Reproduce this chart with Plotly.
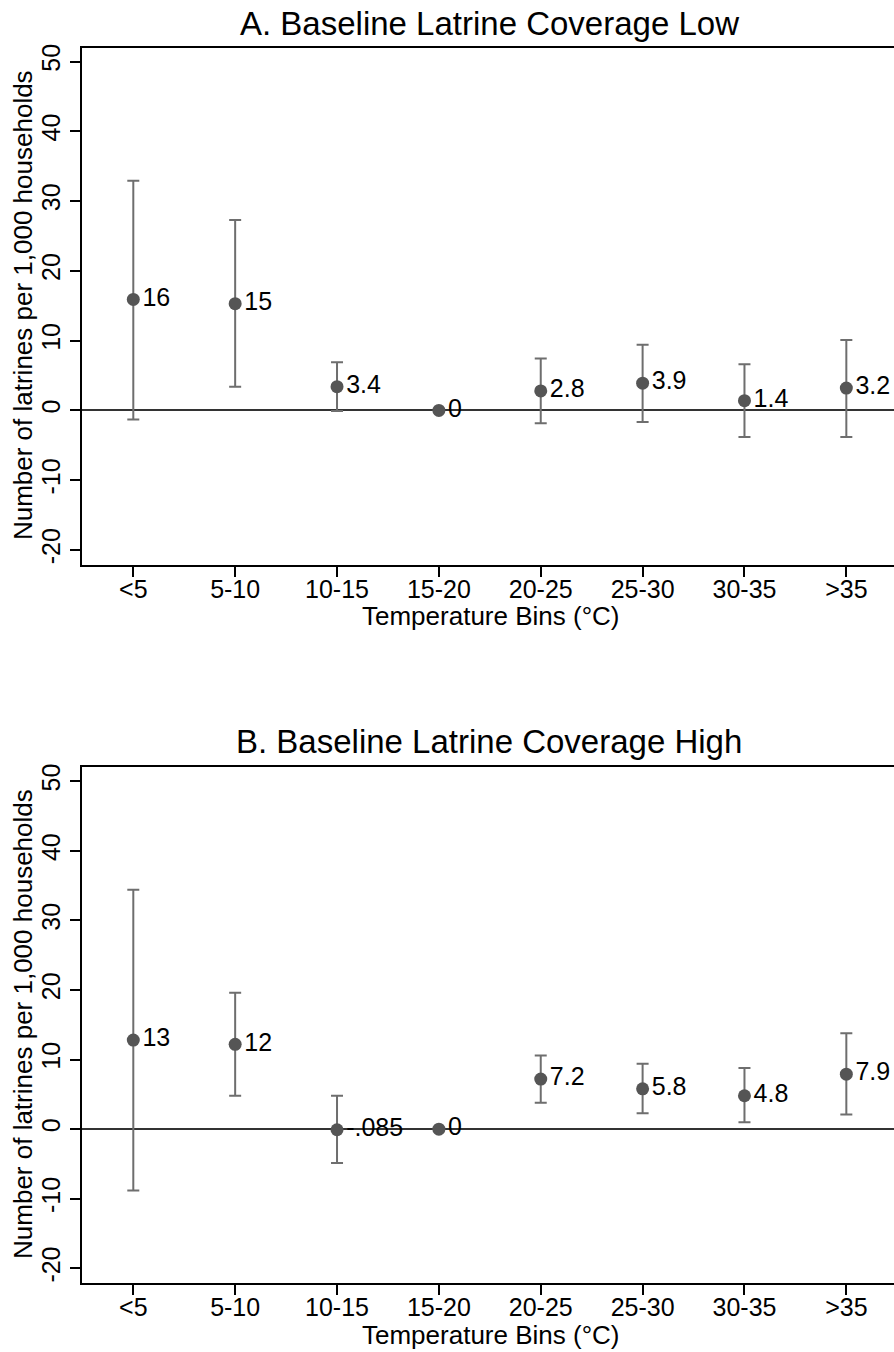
import plotly.graph_objects as go

bins = ["<5", "5-10", "10-15", "15-20", "20-25", "25-30", "30-35", ">35"]

est_a = [15.9, 15.3, 3.4, 0, 2.8, 3.9, 1.4, 3.2]
lo_a = [-1.3, 3.4, -0.1, None, -1.85, -1.65, -3.8, -3.8]
hi_a = [32.9, 27.3, 6.9, None, 7.45, 9.4, 6.6, 10.1]
lab_a = ["16", "15", "3.4", "0", "2.8", "3.9", "1.4", "3.2"]

est_b = [12.8, 12.2, -0.085, 0, 7.2, 5.8, 4.8, 7.9]
lo_b = [-8.8, 4.8, -4.85, None, 3.8, 2.3, 1.0, 2.1]
hi_b = [34.4, 19.6, 4.8, None, 10.6, 9.4, 8.8, 13.8]
lab_b = ["13", "12", "-.085", "0", "7.2", "5.8", "4.8", "7.9"]

titles = ["A. Baseline Latrine Coverage Low", "B. Baseline Latrine Coverage High"]
xtitle = "Temperature Bins (°C)"
ytitle = "Number of latrines per 1,000 households"
yticks = [-20, -10, 0, 10, 20, 30, 40, 50]
ytick_text = ["-20", "-10", "0", "10", "20", "30", "40", "50"]

FONT = "Liberation Sans, Arial, sans-serif"
W, H = 894, 1352
ML = 82


def errs(est, lo, hi):
    plus = [None if h is None else h - e for e, h in zip(est, hi)]
    minus = [None if l is None else e - l for e, l in zip(est, lo)]
    return plus, minus


fig = go.Figure()
for i, (est, lo, hi, lab) in enumerate([(est_a, lo_a, hi_a, lab_a), (est_b, lo_b, hi_b, lab_b)]):
    plus, minus = errs(est, lo, hi)
    sfx = "" if i == 0 else "2"
    fig.add_trace(go.Scatter(
        x=bins, y=est, mode="markers+text", text=lab,
        textposition="middle right",
        textfont=dict(size=25, color="black", family=FONT),
        marker=dict(size=13, color="#555555"),
        error_y=dict(type="data", symmetric=False, array=plus, arrayminus=minus,
                     color="#6e6e6e", thickness=2, width=6),
        xaxis="x" + sfx, yaxis="y" + sfx, showlegend=False, cliponaxis=False,
    ))

# pixel geometry
dom_a = [1 - 562.3 / H, 1 - 43.7 / H]
dom_b = [1 - 1282.7 / H, 1 - 765.7 / H]

xcommon = dict(
    type="category", range=[-0.5036, 7.468], showline=True, linecolor="black", linewidth=2,
    mirror=True, ticks="outside", ticklen=10, tickwidth=2, tickcolor="black",
    tickfont=dict(size=25, color="black", family=FONT), showgrid=False, zeroline=False,
    categoryorder="array", categoryarray=bins, ticklabelstandoff=-9,
)
ycommon = dict(
    range=[-22.1, 52.0], tickvals=yticks, ticktext=ytick_text, showline=True,
    linecolor="black", linewidth=2,
    ticks="outside", ticklen=10, tickwidth=2, tickcolor="black", tickangle=-90,
    tickfont=dict(size=25, color="black", family=FONT), showgrid=False,
    zeroline=True, zerolinecolor="#333333", zerolinewidth=2,
)

fig.update_layout(
    width=W, height=H, margin=dict(l=ML, r=0, t=0, b=0),
    paper_bgcolor="white", plot_bgcolor="white",
    font=dict(family=FONT, color="black"),
    xaxis=dict(xcommon, domain=[0, 1], anchor="y"),
    yaxis=dict(ycommon, domain=dom_a, anchor="x"),
    xaxis2=dict(xcommon, domain=[0, 1], anchor="y2"),
    yaxis2=dict(ycommon, domain=dom_b, anchor="x2"),
)

ann = []
def py(px):
    return 1 - px / H

def pxx(px):
    return (px - ML) / (W - ML)

for t, ty, xty, yc in [(titles[0], 19.5, 613.8, 302), (titles[1], 740, 1334.5, 1023)]:
    ann.append(dict(text=t, x=pxx(489), y=py(ty), xref="paper", yref="paper",
                    xanchor="center", yanchor="middle", showarrow=False,
                    font=dict(size=33, color="black", family=FONT)))
    ann.append(dict(text=xtitle, x=pxx(490), y=py(xty), xref="paper", yref="paper",
                    xanchor="center", yanchor="middle", showarrow=False,
                    font=dict(size=26, color="black", family=FONT)))
    ann.append(dict(text=ytitle, x=pxx(23), y=py(yc), xref="paper", yref="paper",
                    xanchor="center", yanchor="middle", showarrow=False, textangle=-90,
                    font=dict(size=26, color="black", family=FONT)))
fig.update_layout(annotations=ann)

fig.write_html("out.html")
